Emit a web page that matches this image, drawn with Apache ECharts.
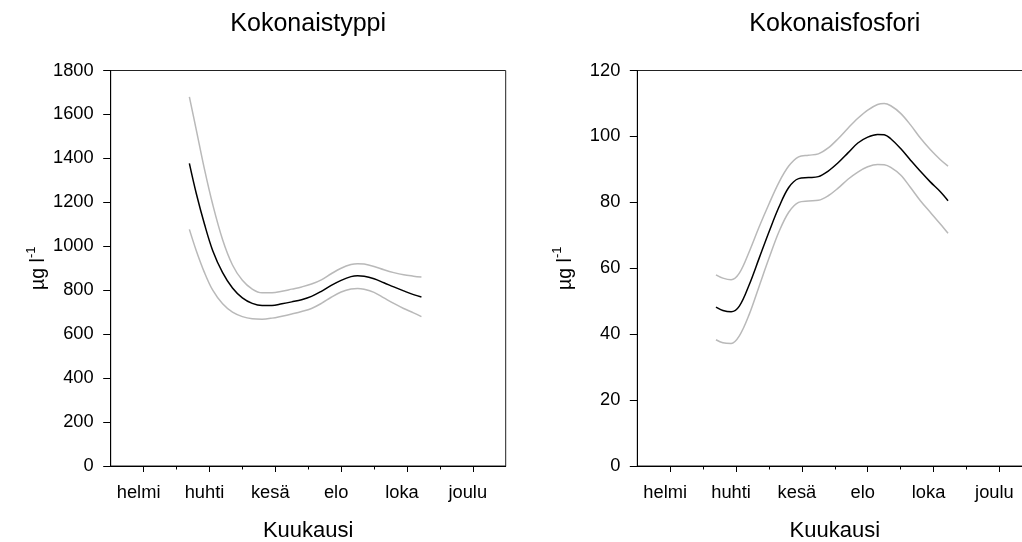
<!DOCTYPE html>
<html>
<head>
<meta charset="utf-8">
<script src="https://cdn.jsdelivr.net/npm/echarts@6/dist/echarts.min.js"></script>
<style>
  html, body { margin: 0; padding: 0; background: #fff; }
  #chart { width: 1022px; height: 542px; }
</style>
</head>
<body>
<div id="chart"></div>
<script>
// Month positions (1 = tammi ... 12 = joulu) at which the seasonal curves are sampled
const months = [3.39, 3.6, 3.85, 4.1, 4.4, 4.7, 5.0, 5.3, 5.6, 5.9, 6.2, 6.5, 6.8,
                7.1, 7.4, 7.7, 8.0, 8.3, 8.5, 8.7, 9.0, 9.3, 9.6, 9.9, 10.2, 10.44];

// Kokonaistyppi (µg/l): fitted curve with upper and lower bounds
const typpiMean  = [1377, 1240, 1100, 980, 880, 810, 765, 740, 730, 730, 738, 747, 757,
                    772, 795, 822, 845, 862, 866, 864, 852, 834, 815, 797, 780, 769];
const typpiUpper = [1680, 1530, 1350, 1190, 1030, 915, 845, 805, 788, 788, 795, 805, 815,
                    828, 847, 875, 900, 917, 921, 919, 908, 893, 880, 870, 864, 860];
const typpiLower = [1077, 980, 880, 800, 738, 700, 680, 670, 668, 673, 682, 692, 703,
                    717, 740, 768, 792, 806, 808, 804, 790, 765, 740, 717, 697, 680];

// Kokonaisfosfori (µg/l): fitted curve with upper and lower bounds
const fosforiMean  = [48.2, 47.2, 46.8, 48.5, 55, 63, 71, 78.5, 84.5, 87.2, 87.5, 87.8, 89.5,
                      92, 95, 98, 99.8, 100.6, 100.5, 99.3, 96.3, 92.8, 89.4, 86.2, 83.3, 80.5];
const fosforiUpper = [58, 57, 56.5, 58.5, 65, 72.5, 79.5, 86, 91, 93.8, 94.3, 94.7, 96.5,
                      99.3, 102.5, 105.5, 108, 109.7, 110, 109.3, 107, 103.5, 99.5, 96, 93, 91];
const fosforiLower = [38.3, 37.4, 37.2, 39.5, 46, 54.5, 63, 71, 77, 80, 80.4, 80.6, 82,
                      84.3, 87, 89.2, 90.8, 91.5, 91.4, 90.6, 88.3, 84.5, 80.5, 77, 73.5, 70.6];

// Month axis: labelled ticks on even months, short ticks on odd months
const labelMonths = [2, 4, 6, 8, 10, 12];
const monthNames  = ['helmi', 'huhti', 'kesä', 'elo', 'loka', 'joulu'];
const minorMonths = [3, 5, 7, 9, 11];

const titles = ['Kokonaistyppi', 'Kokonaisfosfori'];
const xName = 'Kuukausi';

const FONT = "'Liberation Sans', Arial, Helvetica, sans-serif";

const pair = (xs, ys) => xs.map((x, i) => [x, ys[i]]);

// The second panel runs slightly past the right edge of the canvas
const grids = [
  { left: 110.7, top: 70.5, width: 395, height: 395.5 },
  { left: 637.3, top: 70.5, width: 395, height: 395.5 }
];

function monthAxes(gi) {
  return [
    {
      type: 'value', gridIndex: gi, min: 1, max: 13,
      name: xName, nameLocation: 'middle', nameGap: 54,
      nameTextStyle: { fontFamily: FONT, fontSize: 22, color: '#000' },
      axisLine: { show: true, onZero: false, lineStyle: { color: '#000', width: 1 } },
      axisTick: { show: true, inside: false, length: 6, customValues: labelMonths,
                  lineStyle: { color: '#000', width: 1 } },
      axisLabel: { show: true, customValues: labelMonths, margin: 18, padding: [0, 10, 0, 0],
                   fontFamily: FONT, fontSize: 18.3, color: '#000',
                   formatter: v => monthNames[labelMonths.indexOf(Math.round(v))] || '' },
      splitLine: { show: false }
    },
    {
      type: 'value', gridIndex: gi, min: 1, max: 13, position: 'bottom',
      axisLine: { show: false, onZero: false },
      axisTick: { show: true, inside: false, length: 3.5, customValues: minorMonths,
                  lineStyle: { color: '#000', width: 1 } },
      axisLabel: { show: false },
      splitLine: { show: false }
    }
  ];
}

function valueAxis(gi, max, interval) {
  return {
    type: 'value', gridIndex: gi, min: 0, max: max, interval: interval,
    name: '{a|µg l}{s|-1}', nameLocation: 'middle', nameGap: 62, nameRotate: 90,
    nameTextStyle: {
      fontFamily: FONT, color: '#000',
      rich: {
        a: { fontFamily: FONT, fontSize: 19.5, color: '#000', lineHeight: 24, verticalAlign: 'bottom' },
        s: { fontFamily: FONT, fontSize: 13, color: '#000', lineHeight: 24, verticalAlign: 'top', padding: [0, 0, 8, 0] }
      }
    },
    axisLine: { show: true, onZero: false, lineStyle: { color: '#000', width: 1 } },
    axisTick: { show: true, inside: false, length: 7.5, lineStyle: { color: '#000', width: 1 } },
    axisLabel: { margin: 17, fontFamily: FONT, fontSize: 18.3, color: '#000',
                 formatter: v => String(v) },
    splitLine: { show: false }
  };
}

function curve(xi, yi, data, color) {
  return {
    type: 'line', xAxisIndex: xi, yAxisIndex: yi, data: data,
    smooth: 0.35, showSymbol: false, silent: true,
    lineStyle: { color: color, width: 1.5 }
  };
}

const GREY = '#b9b9b9';

const option = {
  backgroundColor: '#fff',
  animation: false,
  title: [
    { text: titles[0], left: 308.2, top: 12, textAlign: 'center', padding: 0,
      textStyle: { fontFamily: FONT, fontSize: 25, fontWeight: 'normal', color: '#000' } },
    { text: titles[1], left: 834.8, top: 12, textAlign: 'center', padding: 0,
      textStyle: { fontFamily: FONT, fontSize: 25, fontWeight: 'normal', color: '#000' } }
  ],
  grid: grids.map(g => Object.assign({ show: true, borderColor: '#222', borderWidth: 1,
                                       backgroundColor: 'transparent', containLabel: false,
                                       outerBoundsMode: 'none' }, g)),
  xAxis: [...monthAxes(0), ...monthAxes(1)],
  yAxis: [valueAxis(0, 1800, 200), valueAxis(1, 120, 20)],
  series: [
    curve(0, 0, pair(months, typpiUpper), GREY),
    curve(0, 0, pair(months, typpiLower), GREY),
    curve(0, 0, pair(months, typpiMean), '#000'),
    curve(2, 1, pair(months, fosforiUpper), GREY),
    curve(2, 1, pair(months, fosforiLower), GREY),
    curve(2, 1, pair(months, fosforiMean), '#000')
  ]
};

const chart = echarts.init(document.getElementById('chart'), null, { renderer: 'canvas' });
chart.setOption(option);
</script>
</body>
</html>
